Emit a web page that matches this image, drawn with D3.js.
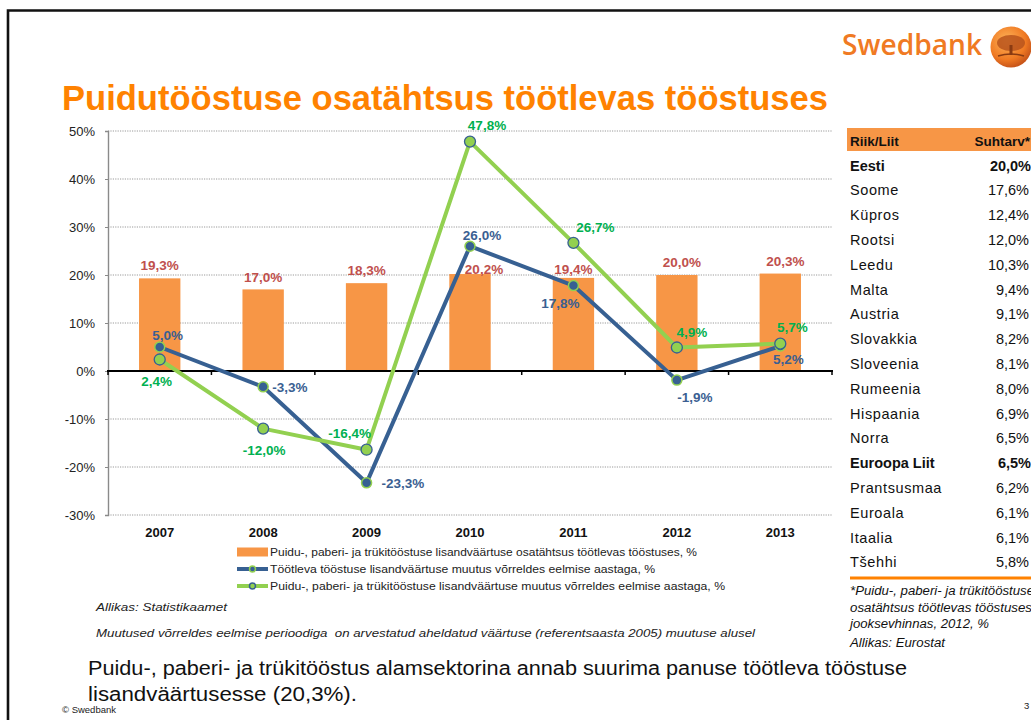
<!DOCTYPE html>
<html><head><meta charset="utf-8">
<script src="https://cdnjs.cloudflare.com/ajax/libs/d3/7.8.5/d3.min.js"></script>
<style>
html,body{margin:0;padding:0;background:#fff;overflow:hidden}
svg{display:block;font-family:Arial,"Liberation Sans",sans-serif}
</style></head>
<body><svg id="c" width="1031" height="720"></svg>
<script>
// ---------- data ----------
const years = ["2007","2008","2009","2010","2011","2012","2013"];
const shareWood = [19.3, 17.0, 18.3, 20.2, 19.4, 20.0, 20.3];
const changeManufacturing = [5.0, -3.3, -23.3, 26.0, 17.8, -1.9, 5.2];
const changeWood = [2.4, -12.0, -16.4, 47.8, 26.7, 4.9, 5.7];
const yTicks = [-30, -20, -10, 0, 10, 20, 30, 40, 50];
const legendLabels = [
  "Puidu-, paberi- ja trükitööstuse lisandväärtuse osatähtsus töötlevas tööstuses, %",
  "Töötleva tööstuse lisandväärtuse muutus võrreldes eelmise aastaga, %",
  "Puidu-, paberi- ja trükitööstuse lisandväärtuse muutus võrreldes eelmise aastaga, %"
];
const tableCountries = ["Eesti","Soome","Küpros","Rootsi","Leedu","Malta","Austria","Slovakkia","Sloveenia","Rumeenia","Hispaania","Norra","Euroopa Liit","Prantsusmaa","Euroala","Itaalia","Tšehhi"];
const tableValues = [20.0,17.6,12.4,12.0,10.3,9.4,9.1,8.2,8.1,8.0,6.9,6.5,6.5,6.2,6.1,6.1,5.8];
const tableBold = ["Eesti","Euroopa Liit"];

// ---------- layout ----------
const svg = d3.select("#c");
const fmt = v => d3.format(".1f")(v).replace(".", ",").replace("\u2212", "-") + "%";
const ORANGE_TITLE = "#FF8200", BAR = "#F79646", BLUE = "#376092", GREEN = "#92D050";
const RED_LBL = "#C0504D", GREEN_LBL = "#00B050", BLUE_LBL = "#3B5F92";

// slide frame
svg.append("path").attr("d","M8,720 L8,10.5 L1031,10.5").attr("fill","none").attr("stroke","#111").attr("stroke-width",2.6);

// logo
svg.append("text").attr("x",842).attr("y",55).attr("font-size",29).attr("fill","#F07A23")
  .attr("font-family","'Open Sans',Arial,sans-serif").attr("font-weight",600)
  .attr("textLength",140).attr("lengthAdjust","spacingAndGlyphs").text("Swedbank");
const defs = svg.append("defs");
const rg = defs.append("radialGradient").attr("id","lg").attr("cx","40%").attr("cy","35%").attr("r","65%");
rg.append("stop").attr("offset","0%").attr("stop-color","#FDB45A");
rg.append("stop").attr("offset","70%").attr("stop-color","#F07A23");
rg.append("stop").attr("offset","100%").attr("stop-color","#C9561A");
svg.append("circle").attr("cx",1011).attr("cy",47).attr("r",20.5).attr("fill","url(#lg)");
svg.append("ellipse").attr("cx",1011).attr("cy",43).attr("rx",14).attr("ry",8).attr("fill","#B8531C").attr("opacity",0.85);
svg.append("rect").attr("x",1009.5).attr("y",45).attr("width",3).attr("height",10).attr("fill","#8A3B12");
svg.append("path").attr("d","M998,56 Q1011,52 1024,56").attr("stroke","#8A3B12").attr("stroke-width",1.5).attr("fill","none");

// title
svg.append("text").attr("x",62).attr("y",110).attr("font-size",34.5).attr("font-weight","bold")
  .attr("fill",ORANGE_TITLE).attr("textLength",766).attr("lengthAdjust","spacingAndGlyphs")
  .text("Puidutööstuse osatähtsus töötlevas tööstuses");

// ---------- chart ----------
const x = d3.scaleBand().domain(years).range([108, 832]).paddingInner(0).paddingOuter(0);
const y = d3.scaleLinear().domain([-30, 50]).range([515, 131]);
const cx = d => x(d) + x.bandwidth()/2;

// gridlines
svg.append("g").selectAll("line").data(yTicks.filter(t => t !== 0)).join("line")
  .attr("x1",108).attr("x2",832).attr("y1",d=>y(d)).attr("y2",d=>y(d))
  .attr("stroke","#9a9a9a").attr("stroke-width",1).attr("stroke-dasharray","1.2,1.2");

// y axis
const yAxis = svg.append("g").attr("transform","translate(108,0)")
  .call(d3.axisLeft(y).tickValues(yTicks).tickFormat(d => d + "%").tickSize(3).tickPadding(10));
yAxis.select(".domain").attr("stroke","#8a8a8a").attr("stroke-width",1.4);
yAxis.selectAll(".tick line").attr("stroke","#8a8a8a");
yAxis.selectAll(".tick text").attr("font-size",13).attr("fill","#222").attr("font-family","Arial,'Liberation Sans',sans-serif");

// bars
const bw = x.bandwidth()*0.4;
svg.append("g").selectAll("rect").data(years).join("rect")
  .attr("x", d => cx(d) - bw/2).attr("width", bw)
  .attr("y", (d,i) => y(shareWood[i])).attr("height", (d,i) => y(0) - y(shareWood[i]))
  .attr("fill", BAR);

// x axis at zero with boundary ticks
const xAxisZero = svg.append("g").attr("transform",`translate(0,${y(0)})`);
xAxisZero.append("line").attr("x1",107).attr("x2",833).attr("stroke","#000").attr("stroke-width",2);
const edges = years.map(d => x(d)).concat([x(years[years.length-1]) + x.bandwidth()]);
xAxisZero.selectAll("line.t").data(edges).join("line").attr("class","t")
  .attr("x1",d=>d).attr("x2",d=>d).attr("y1",0).attr("y2",4).attr("stroke","#000").attr("stroke-width",1.5);

// year labels
const xAxis = svg.append("g").attr("transform",`translate(0,${y(-30)})`)
  .call(d3.axisBottom(x).tickSize(0).tickPadding(13));
xAxis.select(".domain").remove();
xAxis.selectAll(".tick text").attr("font-size",13).attr("font-weight","bold").attr("fill","#111")
  .attr("font-family","Arial,'Liberation Sans',sans-serif");

// lines
const line = vals => d3.line().x((d,i)=>cx(years[i])).y(d=>y(d))(vals);
svg.append("path").attr("d", line(changeManufacturing)).attr("fill","none").attr("stroke",BLUE).attr("stroke-width",4).attr("stroke-linejoin","round");
svg.append("g").selectAll("circle").data(changeManufacturing).join("circle")
  .attr("cx",(d,i)=>cx(years[i])).attr("cy",d=>y(d)).attr("r",5).attr("fill",BLUE).attr("stroke",GREEN).attr("stroke-width",1.5);
svg.append("path").attr("d", line(changeWood)).attr("fill","none").attr("stroke",GREEN).attr("stroke-width",4).attr("stroke-linejoin","round");
svg.append("g").selectAll("circle").data(changeWood).join("circle")
  .attr("cx",(d,i)=>cx(years[i])).attr("cy",d=>y(d)).attr("r",5.5).attr("fill",GREEN).attr("stroke",BLUE).attr("stroke-width",1.3);

// data labels (nudges relative to the mark, in px)
const barNudge = [[0,-8],[0,-7],[0,-8],[14,0],[0,-4],[5,-8],[5,-8]];
const blueNudge = [[8,-7],[9,5,"start"],[15,5,"start"],[12,-6],[-13,22],[18,22],[8,18]];
const greenNudge = [[-3,27],[1,26],[-17,-12],[17,-12],[22,-11],[15,-10],[12,-12]];
function labels(vals, nudges, color){
  svg.append("g").selectAll("text").data(vals).join("text")
    .attr("x",(d,i)=>cx(years[i]) + nudges[i][0])
    .attr("y",(d,i)=>y(d) + nudges[i][1])
    .attr("text-anchor",(d,i)=>nudges[i][2] || "middle")
    .attr("font-size",13.5).attr("font-weight","bold").attr("fill",color).text(d=>fmt(d));
}
labels(shareWood, barNudge, RED_LBL);
labels(changeManufacturing, blueNudge, BLUE_LBL);
labels(changeWood, greenNudge, GREEN_LBL);

// legend
const lg = svg.append("g");
const legY = [552, 569, 586];
const legW = [427, 385, 455];
lg.append("rect").attr("x",237).attr("y",legY[0]-4.5).attr("width",31).attr("height",9).attr("fill",BAR);
[[BLUE,GREEN,BLUE],[GREEN,BLUE,GREEN]].forEach((c,k)=>{
  const yy = legY[k+1];
  lg.append("line").attr("x1",237).attr("x2",268).attr("y1",yy).attr("y2",yy).attr("stroke",c[0]).attr("stroke-width",4);
  lg.append("circle").attr("cx",252.5).attr("cy",yy).attr("r",3).attr("fill",c[2]).attr("stroke",c[1]).attr("stroke-width",1.5);
});
lg.selectAll("text").data(legendLabels).join("text")
  .attr("x",270).attr("y",(d,i)=>legY[i]+4).attr("font-size",11).attr("fill","#222")
  .attr("textLength",(d,i)=>legW[i]).attr("lengthAdjust","spacingAndGlyphs").text(d=>d);

// sources / notes
svg.append("text").attr("x",96).attr("y",611).attr("font-size",11.5).attr("font-style","italic").attr("fill","#222")
  .attr("textLength",131).attr("lengthAdjust","spacingAndGlyphs").text("Allikas: Statistikaamet");
svg.append("text").attr("x",96).attr("y",637).attr("font-size",11.5).attr("font-style","italic").attr("fill","#222")
  .attr("textLength",659).attr("lengthAdjust","spacingAndGlyphs").attr("xml:space","preserve")
  .text("Muutused võrreldes eelmise perioodiga  on arvestatud aheldatud väärtuse (referentsaasta 2005) muutuse alusel");

// body text
svg.append("text").attr("x",88).attr("y",675).attr("font-size",20).attr("fill","#111")
  .attr("textLength",819).attr("lengthAdjust","spacingAndGlyphs")
  .text("Puidu-, paberi- ja trükitööstus alamsektorina annab suurima panuse töötleva tööstuse");
svg.append("text").attr("x",88).attr("y",701).attr("font-size",20).attr("fill","#111")
  .attr("textLength",269).attr("lengthAdjust","spacingAndGlyphs")
  .text("lisandväärtusesse (20,3%).");
svg.append("text").attr("x",62).attr("y",713).attr("font-size",9.5).attr("fill","#222").text("© Swedbank");
svg.append("text").attr("x",1024).attr("y",709).attr("font-size",9.5).attr("fill","#222").text("3");

// ---------- table ----------
const tb = svg.append("g");
tb.append("rect").attr("x",847).attr("y",128).attr("width",190).attr("height",23).attr("fill",BAR);
tb.append("text").attr("x",850).attr("y",146).attr("font-size",13.5).attr("font-weight","bold").attr("fill","#111").text("Riik/Liit");
tb.append("text").attr("x",1030).attr("y",146).attr("text-anchor","end").attr("font-size",13.5).attr("font-weight","bold").attr("fill","#111").text("Suhtarv*");
const rowY = i => 170.5 + i*24.8;
tb.selectAll("text.c").data(tableCountries).join("text").attr("class","c")
  .attr("x",850).attr("y",(d,i)=>rowY(i)).attr("font-size",14.5)
  .attr("font-weight",d=>tableBold.includes(d)?"bold":"normal")
  .attr("letter-spacing",d=>tableBold.includes(d)?0:0.6)
  .attr("fill","#111").text(d=>d);
tb.selectAll("text.v").data(tableValues).join("text").attr("class","v")
  .attr("x",(d,i)=>tableBold.includes(tableCountries[i])?1031:1029).attr("y",(d,i)=>rowY(i)).attr("text-anchor","end").attr("font-size",14.5)
  .attr("font-weight",(d,i)=>tableBold.includes(tableCountries[i])?"bold":"normal")
  .attr("fill","#111").text(d=>fmt(d));
tb.append("line").attr("x1",850).attr("x2",1031).attr("y1",578).attr("y2",578).attr("stroke","#FF8200").attr("stroke-width",3);
const notes = ["*Puidu-, paberi- ja trükitööstuse","osatähtsus töötlevas tööstuses","jooksevhinnas, 2012, %","Allikas: Eurostat"];
const noteY = [595, 612, 628, 647];
const noteW = [184, 182, 139, 95];
tb.selectAll("text.n").data(notes).join("text").attr("class","n")
  .attr("x",850).attr("y",(d,i)=>noteY[i]).attr("font-size",12.5).attr("font-style","italic").attr("fill","#111")
  .attr("textLength",(d,i)=>noteW[i]).attr("lengthAdjust","spacingAndGlyphs").text(d=>d);
</script>
</body></html>
